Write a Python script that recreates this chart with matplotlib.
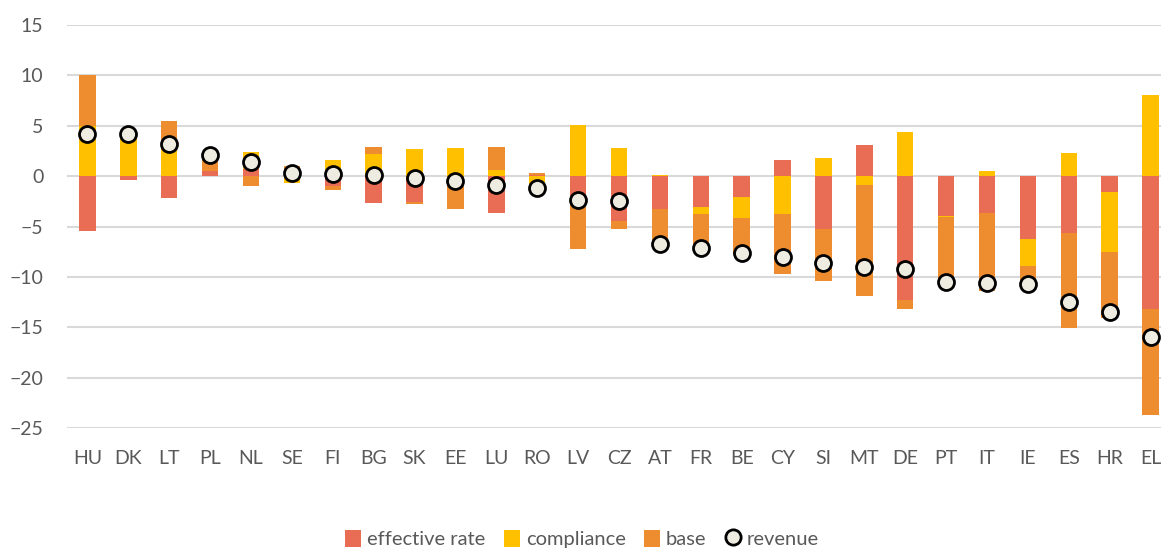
import matplotlib
matplotlib.use("Agg")
import matplotlib.pyplot as plt
import numpy as np
from matplotlib.patches import Patch
from matplotlib.lines import Line2D

countries = ["HU", "DK", "LT", "PL", "NL", "SE", "FI", "BG", "SK", "EE", "LU", "RO", "LV", "CZ",
             "AT", "FR", "BE", "CY", "SI", "MT", "DE", "PT", "IT", "IE", "ES", "HR", "EL"]

effective_rate = [-5.4, -0.35, -2.15, 0.5, 0.7, 0.0, -0.95, -2.65, -2.55, 0.0, -3.7, 0.15, -2.4, -4.5,
                  -3.3, -3.1, -2.1, 1.6, -5.25, 3.1, -12.3, -3.95, -3.7, -6.25, -5.6, -1.6, -13.2]
compliance = [5.0, 4.45, 3.2, 0.0, 1.7, -0.65, 1.6, 2.15, 2.65, 2.75, 0.6, -0.9, 5.1, 2.8,
              0.15, -0.65, -2.05, -3.75, 1.75, -0.85, 4.35, -0.15, 0.55, -2.7, 2.3, -5.9, 8.1]
base = [5.0, 0.0, 2.25, 1.4, -1.0, 1.0, -0.4, 0.7, -0.2, -3.25, 2.28, 0.15, -4.8, -0.7,
        -3.4, -3.55, -3.65, -6.0, -5.2, -11.05, -0.85, -6.6, -7.7, -2.05, -9.45, -6.55, -10.5]
revenue = [4.2, 4.2, 3.2, 2.1, 1.4, 0.3, 0.25, 0.1, -0.15, -0.5, -0.9, -1.15, -2.35, -2.5,
           -6.7, -7.15, -7.65, -8.05, -8.6, -9.05, -9.2, -10.55, -10.65, -10.7, -12.5, -13.45, -16.0]

series_names = ["effective rate", "compliance", "base"]
series_values = [effective_rate, compliance, base]
colors = ["#E96C55", "#FFC000", "#ED8D2F"]

plt.rcParams['font.family'] = ['Lato', 'DejaVu Sans']

W, H = 1161, 550
fig = plt.figure(figsize=(W / 100, H / 100), dpi=100)
left_px, right_px, top_px, bot_px = 67, 1171, 25, 428
ax = fig.add_axes([left_px / W, 1 - bot_px / H, (right_px - left_px) / W, (bot_px - top_px) / H])

x = np.arange(len(countries))
pos_bottom = np.zeros(len(countries))
neg_bottom = np.zeros(len(countries))
for name, vals, col in zip(series_names, series_values, colors):
    v = np.array(vals, dtype=float)
    bottoms = np.where(v >= 0, pos_bottom, neg_bottom)
    ax.bar(x, v, bottom=bottoms, width=0.4, color=col, zorder=2, label=name)
    pos_bottom = pos_bottom + np.where(v > 0, v, 0)
    neg_bottom = neg_bottom + np.where(v < 0, v, 0)

ax.scatter(x, revenue, s=11.5 ** 2, facecolor="#EEEBE0", edgecolor="black", linewidth=2, zorder=4)

ax.set_ylim(-25, 15)
ax.set_xlim(-0.5, 26.5)
ax.set_yticks(np.arange(-25, 16, 5))
ax.set_xticks(x)
ax.set_xticklabels(countries)
ax.yaxis.grid(True, color="#D9D9D9", linewidth=1.5, zorder=0)
ax.set_axisbelow(True)
for s in ax.spines.values():
    s.set_visible(False)
ax.tick_params(axis="both", length=0, labelsize=14, labelcolor="#595959")
ax.tick_params(axis="y", pad=17)
ax.tick_params(axis="x", pad=16)

handles = [Patch(facecolor=c, edgecolor="none") for c in colors]
handles.append(Line2D([], [], marker="o", linestyle="none", markersize=11,
                      markerfacecolor="#EEEBE0", markeredgecolor="black", markeredgewidth=2))
fig.legend(handles, series_names + ["revenue"], loc="center", bbox_to_anchor=(582 / W, 1 - 539 / H),
           ncol=4, frameon=False, fontsize=14.5, labelcolor="#595959",
           handlelength=0.8, handleheight=0.9, handletextpad=0.3, columnspacing=0.9)

fig.savefig("out.png", dpi=100)
